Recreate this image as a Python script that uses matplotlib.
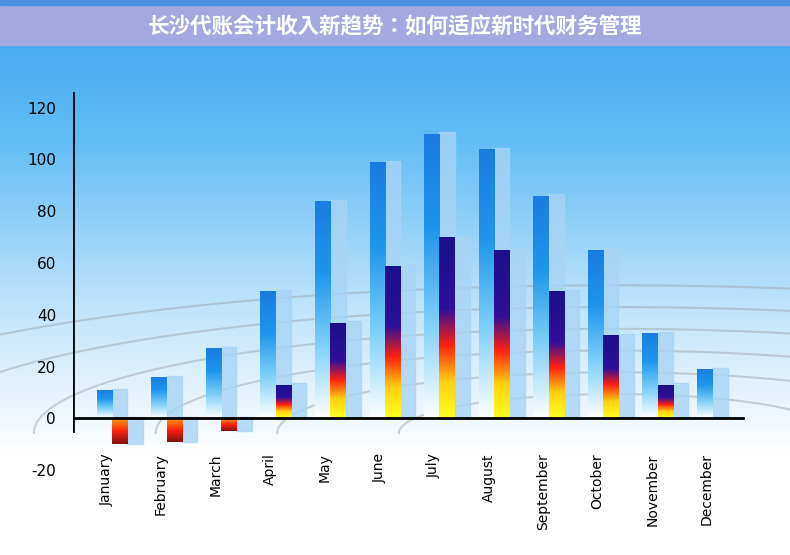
import numpy as np
import matplotlib
matplotlib.use("Agg")
import matplotlib.pyplot as plt
from matplotlib.colors import LinearSegmentedColormap
from matplotlib.patches import Rectangle
from matplotlib import font_manager

plt.rcParams["axes.unicode_minus"] = False
plt.rcParams["font.family"] = ["DejaVu Sans", "Noto Sans CJK SC", "Noto Sans CJK JP"]

months = ["January","February","March","April","May","June","July","August",
          "September","October","November","December"]
series_a = [11, 16, 27, 49, 84, 99, 110, 104, 86, 65, 33, 19]
series_b = [-10, -9, -5, 13, 37, 59, 70, 65, 49, 32, 13, 0]
title = "长沙代账会计收入新趋势：如何适应新时代财务管理"

cjk = None
for f in font_manager.fontManager.ttflist:
    if "CJK SC" in f.name and "Bold" in f.fname:
        cjk = font_manager.FontProperties(fname=f.fname, size=15.5)
        break
if cjk is None:
    cjk = font_manager.FontProperties(family=["Noto Sans CJK SC", "Noto Sans CJK JP"], size=15.5, weight="bold")

fig = plt.figure(figsize=(7.9, 5.55), dpi=100)
bg = fig.add_axes([0, 0, 1, 1], zorder=-10)
grad = np.linspace(0, 1, 256).reshape(-1, 1)
bg_cmap = LinearSegmentedColormap.from_list(
    "bg", [(0, "#ffffff"), (0.18, "#ffffff"), (0.45, "#bfe3fb"), (0.75, "#62bdf5"), (1, "#3aa3ee")])
bg.imshow(grad, aspect="auto", cmap=bg_cmap, extent=[0, 1, 0, 1], origin="lower")
bg.add_patch(Rectangle((0, 1 - 45/555), 1, 45/555, color="#a9a9e0", alpha=0.95))
bg.add_patch(Rectangle((0, 1 - 5/555), 1, 5/555, color="#4a8fe0"))
bg.text(0.5, 1 - 27/555, title, ha="center", va="center", color="white", fontproperties=cjk)
for r in np.linspace(0.25, 0.95, 6):
    t = np.linspace(0, np.pi, 200)
    bg.plot(0.78 + r*1.1*np.cos(t), 0.22 + r*0.28*np.sin(t), color="#a0a8b0", lw=1.5, alpha=0.5)
bg.set_xlim(0, 1); bg.set_ylim(0, 1); bg.axis("off")

ax = fig.add_axes([0.092, 0.153, 0.851, 0.681])
ax.set_facecolor("none")
for s in ax.spines.values():
    s.set_visible(False)

blue_cmap = LinearSegmentedColormap.from_list("b", ["#ffffff", "#7fd0f8", "#1e95ec", "#1a7ce0"])
fire_cmap = LinearSegmentedColormap.from_list("f", [(0, "#ffff20"), (0.2, "#ffd010"), (0.4, "#ff2010"),
                                                    (0.6, "#30109a"), (1, "#1a0f8a")])
neg_cmap = LinearSegmentedColormap.from_list("n", ["#801010", "#ff2010", "#ffa010"])
w = 0.28

def grad_bar(x0, h, cmap, z):
    y0, y1 = (0, h) if h >= 0 else (h, 0)
    rect = Rectangle((x0, y0), w, y1 - y0, facecolor="none", edgecolor="none")
    ax.add_patch(rect)
    im = ax.imshow(np.linspace(0, 1, 256).reshape(-1, 1), cmap=cmap, aspect="auto",
                   extent=[x0, x0 + w, y0, y1], origin="lower", zorder=z)
    im.set_clip_path(rect)

for i, (a, b) in enumerate(zip(series_a, series_b)):
    xa = i - w
    ax.add_patch(Rectangle((xa + 0.28, 0), w, a + 0.5, color="#a8d4f5", alpha=0.8, zorder=1))
    grad_bar(xa, a, blue_cmap, 2)
    if b != 0:
        ax.add_patch(Rectangle((i + 0.28, min(b, 0)), w, abs(b) + 0.5, color="#a8d4f5", alpha=0.8, zorder=3))
        grad_bar(i, b, fire_cmap if b > 0 else neg_cmap, 4)

ax.plot([-0.72, -0.72], [-5, 126], color="black", lw=2, zorder=5)
ax.plot([-0.72, 11.6], [0, 0], color="black", lw=2, zorder=5)
ax.set_yticks(range(-20, 121, 20))
ax.tick_params(axis="y", length=0, labelsize=11, pad=12)
ax.set_xticks(np.arange(12) - 0.1)
ax.set_xticklabels(months, rotation=90, fontsize=10)
ax.tick_params(axis="x", length=0, pad=-12)
ax.set_xlim(-0.72, 11.6); ax.set_ylim(-20, 126)
fig.savefig("out.png", dpi=100)
